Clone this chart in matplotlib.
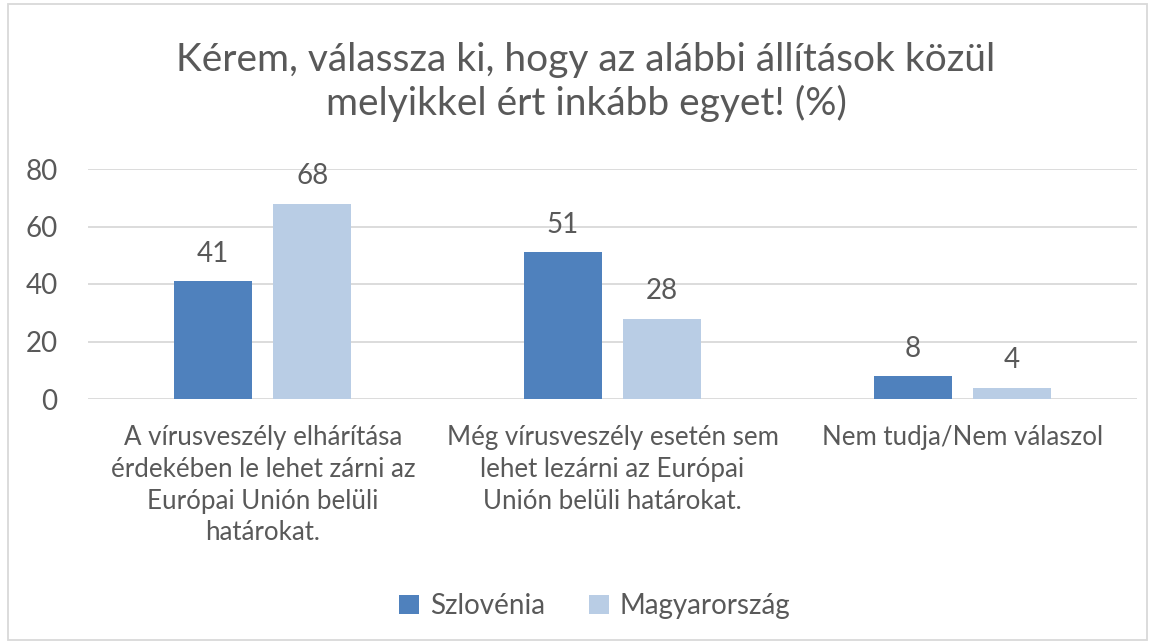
import numpy as np
import matplotlib.pyplot as plt

plt.rcParams['font.family'] = ['Lato', 'DejaVu Sans']

categories = [
    "A vírusveszély elhárítása\nérdekében le lehet zárni az\nEurópai Unión belüli\nhatárokat.",
    "Még vírusveszély esetén sem\nlehet lezárni az Európai\nUnión belüli határokat.",
    "Nem tudja/Nem válaszol",
]
series_names = ["Szlovénia", "Magyarország"]
slovenia = [41, 51, 8]
hungary = [68, 28, 4]
y_ticks = [0, 20, 40, 60, 80]

text_col = "#595959"
colors = ["#4F81BD", "#B9CDE5"]

fig = plt.figure(figsize=(11.55, 6.44), dpi=100)
ax = fig.add_axes([88 / 1155, 1 - 399 / 644, (1137 - 88) / 1155, 230 / 644])

x = np.arange(len(categories))
w = 0.223
off = 0.142
for vals, dx, c, name in zip([slovenia, hungary], [-off, off], colors, series_names):
    bars = ax.bar(x + dx, vals, width=w, color=c, label=name, zorder=3)
    for b, v in zip(bars, vals):
        ax.text(b.get_x() + b.get_width() / 2, v + 5, str(v), ha="center",
                va="bottom", fontsize=20, color=text_col)

ax.set_xlim(-0.5, len(categories) - 0.5)
ax.set_ylim(0, 80)
ax.set_yticks(y_ticks)
ax.set_yticklabels([str(t) for t in y_ticks], fontsize=20, color=text_col)
ax.tick_params(axis="y", length=0, pad=22)
ax.set_xticks(x)
ax.set_xticklabels(categories, fontsize=18.6, color=text_col, linespacing=1.33)
ax.tick_params(axis="x", length=0, pad=19)
ax.grid(axis="y", color="#D9D9D9", linewidth=1.3, zorder=0)
for s in ax.spines.values():
    s.set_visible(False)

fig.text(586 / 1155, 1 - 82 / 644,
         "Kérem, válassza ki, hogy az alábbi állítások közül\nmelyikkel ért inkább egyet! (%)",
         ha="center", va="center", fontsize=28, color=text_col, linespacing=1.25)

leg = fig.legend(loc="center", bbox_to_anchor=(595 / 1155, 1 - 606 / 644), ncol=2,
                 frameon=False, fontsize=20, handlelength=0.7, handleheight=0.7,
                 columnspacing=1.6, handletextpad=0.4)
for t in leg.get_texts():
    t.set_color(text_col)

fig.add_artist(plt.Rectangle((8 / 1155, 4 / 644), 1139 / 1155, 636 / 644,
                             transform=fig.transFigure, fill=False,
                             edgecolor="#D9D9D9", linewidth=1.3))

fig.savefig("out.png", dpi=100)
